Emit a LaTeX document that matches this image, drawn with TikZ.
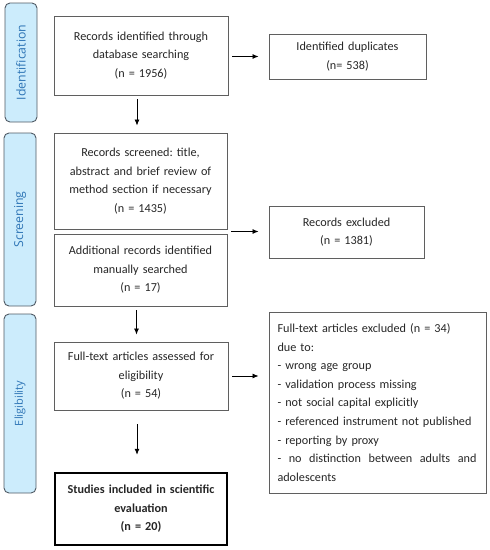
\documentclass[tikz,border=0pt]{standalone}
\usepackage{fontspec}
\setmainfont{Carlito}
\newfontfamily\tabfont{Open Sans}
\usetikzlibrary{arrows.meta,calc}
\frenchspacing
\definecolor{tabfill}{RGB}{204,236,252}
\definecolor{tabdraw}{RGB}{80,90,100}
\definecolor{tabtext}{RGB}{46,117,182}
\definecolor{boxdraw}{RGB}{95,95,95}
\tikzset{
  box/.style={draw=boxdraw, line width=0.9pt, rectangle, align=center, inner sep=2pt,
    font=\fontsize{12.2}{18.6}\selectfont, text=black!85},
  tab/.style={draw=tabdraw, fill=tabfill, line width=0.9pt, rounded corners=5pt, rectangle},
  tablabel/.style={rotate=90, text=tabtext},
  arr/.style={-{Latex[length=6pt,width=5pt]}, line width=0.8pt, black}
}
\begin{document}
\begin{tikzpicture}[x=1pt,y=-1pt]
\useasboundingbox (0,0) rectangle (490,550);
% tabs
\node[tab, minimum width=32pt, minimum height=119pt] (tabI) at (21,62.5) {};
\node[tablabel, font=\tabfont\fontsize{12.3}{14}\selectfont] (tabIl) at (tabI.center) {Identification};
\node[tab, minimum width=32pt, minimum height=173pt] (tabS) at (20,219.5) {};
\node[tablabel, font=\tabfont\fontsize{12.3}{14}\selectfont] (tabSl) at (tabS.center) {Screening};
\node[tab, minimum width=32pt, minimum height=179pt] (tabE) at (20,403.5) {};
\node[tablabel, font=\tabfont\fontsize{11}{12}\selectfont] (tabEl) at (tabE.center) {Eligibility};
% boxes
\node[box, minimum width=174pt, minimum height=79pt, text width=168pt] (b1) at (141,55.5)
  {Records identified through\\ database searching\\ (n = 1956)};
\node[box, minimum width=157pt, minimum height=45pt, text width=150pt] (dup) at (347.5,56.5)
  {Identified duplicates\\ (n= 538)};
\node[box, minimum width=173pt, minimum height=96pt, text width=168pt] (b2) at (140.5,181)
  {Records screened: title,\\ abstract and brief review of\\ method section if necessary\\ (n = 1435)};
\node[box, minimum width=173pt, minimum height=72pt, text width=168pt] (b3) at (140.5,270)
  {Additional records identified\\ manually searched\\ (n = 17)};
\node[box, minimum width=155pt, minimum height=52pt, text width=150pt] (ex1) at (346.5,232)
  {Records excluded\\ (n = 1381)};
\node[box, minimum width=174pt, minimum height=68pt, text width=168pt] (b4) at (141,376)
  {Full-text articles assessed for\\ eligibility\\ (n = 54)};
\node[box, minimum width=217pt, minimum height=181pt, text width=200pt, align=left] (ex2) at (377.5,402.5)
  {Full-text articles excluded (n = 34)\\ due to:\\ - wrong age group\\ - validation process missing\\ - not social capital explicitly\\ - referenced instrument not published\\ - reporting by proxy\\ \leavevmode\hbox to 199pt{-\hfill no\hfill distinction\hfill between\hfill adults\hfill and}\\ adolescents};
\node[box, draw=black, line width=2.5pt, minimum width=172pt, minimum height=72pt, text width=166pt,
  font=\bfseries\fontsize{12.2}{18.6}\selectfont] (fin) at (141,509)
  {Studies included in scientific\\ evaluation\\ (n = 20)};
% connectors
\draw[arr, shorten <=4pt, shorten >=10pt] (b1.east |- dup.west) -- (dup.west);
\draw[arr, shorten <=4pt, shorten >=10pt] ($(b2.south east)!0.5!(b3.north east)$) coordinate (mid) -- (mid -| ex1.west);
\draw[arr, shorten <=4pt, shorten >=10pt] (b4.east) -- (b4.east -| ex2.west);
\draw[arr, shorten <=4pt, shorten >=7pt] ([xshift=-4pt]b1.south) -- ([xshift=-4pt]b1.south |- b2.north);
\draw[arr, shorten <=4pt, shorten >=7pt] ([xshift=-4pt]b3.south) -- ([xshift=-4pt]b3.south |- b4.north);
\draw[arr, shorten <=14pt, shorten >=17pt] ([xshift=-4pt]b4.south) -- ([xshift=-4pt]b4.south |- fin.north);
\end{tikzpicture}
\end{document}
